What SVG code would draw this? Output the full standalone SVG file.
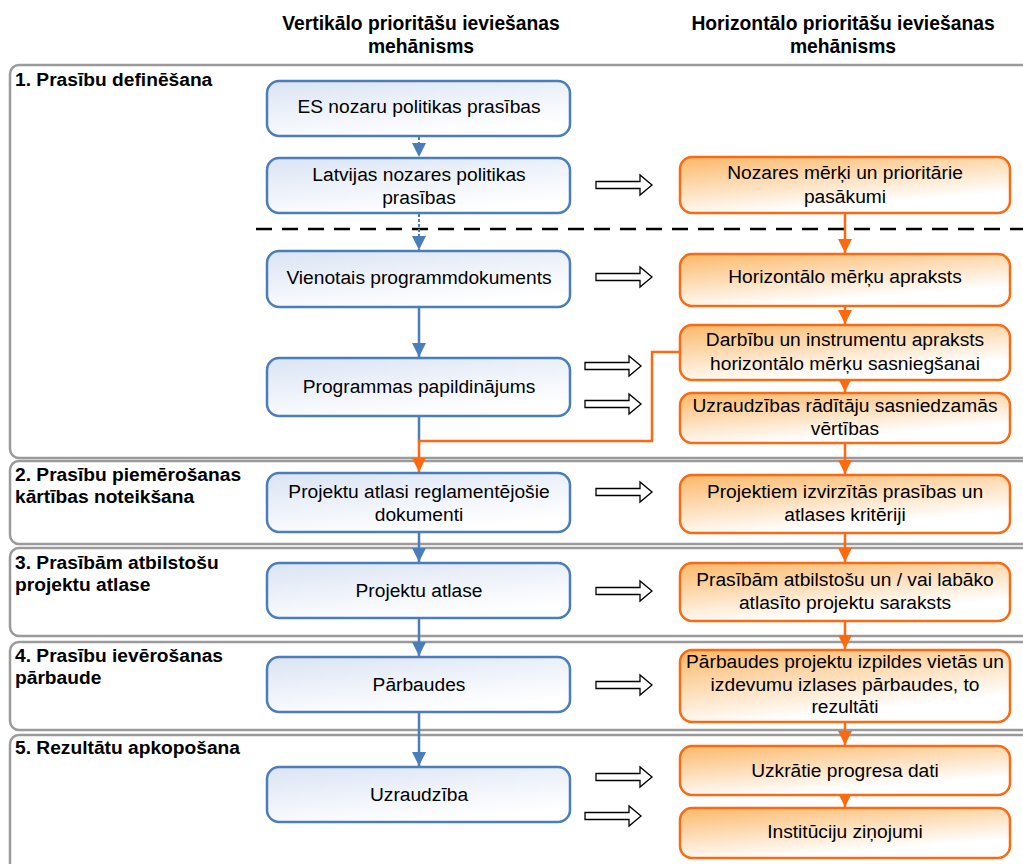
<svg xmlns="http://www.w3.org/2000/svg" width="1023" height="864" viewBox="0 0 1023 864">
<defs>
<linearGradient id="gb" x1="0" y1="0" x2="0.5" y2="1">
<stop offset="0" stop-color="#dbe4f4"/>
<stop offset="1" stop-color="#ffffff"/>
</linearGradient>
<linearGradient id="go" x1="0" y1="0" x2="0.5" y2="1">
<stop offset="0" stop-color="#fbb868"/>
<stop offset="0.9" stop-color="#ffffff"/>
</linearGradient>
<marker id="ab" viewBox="0 0 10 10" refX="10" refY="5" markerWidth="14" markerHeight="14" markerUnits="userSpaceOnUse" orient="auto">
<path d="M0,0 L10,5 L0,10 z" fill="#4a7ebb"/>
</marker>
<marker id="ao" viewBox="0 0 10 10" refX="10" refY="5" markerWidth="14" markerHeight="14" markerUnits="userSpaceOnUse" orient="auto">
<path d="M0,0 L10,5 L0,10 z" fill="#fb6a10"/>
</marker>
<path id="ha" d="M0,-3.5 H44 V-10 L56,0 L44,10 V3.5 H0 Z"/>
</defs>
<style>
.sec{fill:none;stroke:#9a9a9a;stroke-width:2.5}
.lbl{font-family:"Liberation Sans",Arial,sans-serif;font-weight:bold;font-size:19.2px;fill:#000}
.hdr{font-family:"Liberation Sans",Arial,sans-serif;font-weight:bold;font-size:19.3px;fill:#000;text-anchor:middle}
.bb{fill:url(#gb);stroke:#4a7ebb;stroke-width:2.5}
.ob{fill:url(#go);stroke:#fb6a10;stroke-width:2.5}
.t{font-family:"Liberation Sans",Arial,sans-serif;font-size:19.2px;fill:#000;text-anchor:middle}
.cb{fill:none;stroke:#4a7ebb;stroke-width:2.5}
.cbd{fill:none;stroke:#4a7ebb;stroke-width:2;stroke-dasharray:3 2}
.co{fill:none;stroke:#fb6a10;stroke-width:2.5}
.hol{fill:#fff;stroke:#000;stroke-width:1.3}
.dash{stroke:#000;stroke-width:2.5;stroke-dasharray:16 10;fill:none}
</style>
<rect width="1023" height="864" fill="#fff"/>

<g id="headers">
<text class="hdr" x="421" y="30">Vertikālo prioritāšu ieviešanas</text>
<text class="hdr" x="421" y="53">mehānisms</text>
<text class="hdr" x="843" y="30">Horizontālo prioritāšu ieviešanas</text>
<text class="hdr" x="843" y="53">mehānisms</text>
</g>

<g id="sections">
<g id="sec1"><rect class="sec" x="10" y="65" width="1040" height="393" rx="9"/><text class="lbl" x="15" y="86">1. Prasību definēšana</text></g>
<g id="sec2"><rect class="sec" x="10" y="461" width="1040" height="83" rx="9"/><text class="lbl" x="15" y="481">2. Prasību piemērošanas</text><text class="lbl" x="15" y="503">kārtības noteikšana</text></g>
<g id="sec3"><rect class="sec" x="10" y="548" width="1040" height="88" rx="9"/><text class="lbl" x="15" y="569">3. Prasībām atbilstošu</text><text class="lbl" x="15" y="591">projektu atlase</text></g>
<g id="sec4"><rect class="sec" x="10" y="642" width="1040" height="88" rx="9"/><text class="lbl" x="15" y="662">4. Prasību ievērošanas</text><text class="lbl" x="15" y="684">pārbaude</text></g>
<g id="sec5"><rect class="sec" x="10" y="735" width="1040" height="200" rx="9"/><text class="lbl" x="15" y="754">5. Rezultātu apkopošana</text></g>
</g>

<path class="dash" d="M256,229 H1023"/>

<g id="connectors">
<path class="cbd" d="M419,137 V157" marker-end="url(#ab)"/>
<path class="cbd" d="M419,214 V250" marker-end="url(#ab)"/>
<path class="cb" d="M419,308 V357" marker-end="url(#ab)"/>
<path class="cb" d="M419,417 V441"/>
<path class="co" d="M680,352 H652 V441 H419 V472" marker-end="url(#ao)"/>
<path class="cb" d="M419,533 V562" marker-end="url(#ab)"/>
<path class="cb" d="M419,619 V656" marker-end="url(#ab)"/>
<path class="cb" d="M419,713 V766" marker-end="url(#ab)"/>
<path class="co" d="M845,214 V253" marker-end="url(#ao)"/>
<path class="co" d="M845,307 V324" marker-end="url(#ao)"/>
<path class="co" d="M845,381 V392" marker-end="url(#ao)"/>
<path class="co" d="M845,444 V474" marker-end="url(#ao)"/>
<path class="co" d="M845,534 V562" marker-end="url(#ao)"/>
<path class="co" d="M845,622 V649" marker-end="url(#ao)"/>
<path class="co" d="M845,723 V745" marker-end="url(#ao)"/>
<path class="co" d="M845,796 V807" marker-end="url(#ao)"/>
<use href="#ha" class="hol" x="596" y="185"/>
<use href="#ha" class="hol" x="596" y="277"/>
<use href="#ha" class="hol" x="585" y="366"/>
<use href="#ha" class="hol" x="585" y="404"/>
<use href="#ha" class="hol" x="596" y="492"/>
<use href="#ha" class="hol" x="596" y="591"/>
<use href="#ha" class="hol" x="596" y="685"/>
<use href="#ha" class="hol" x="596" y="777"/>
<use href="#ha" class="hol" x="585" y="816"/>
</g>

<g id="n_es"><rect class="bb" x="267" y="81" width="303" height="55" rx="12"/><text class="t" x="419" y="113">ES nozaru politikas prasības</text></g>
<g id="n_lv"><rect class="bb" x="267" y="158" width="303" height="55" rx="12"/><text class="t" x="419" y="181">Latvijas nozares politikas</text><text class="t" x="419" y="204">prasības</text></g>
<g id="n_vpd"><rect class="bb" x="267" y="251" width="303" height="56" rx="12"/><text class="t" x="419" y="284">Vienotais programmdokuments</text></g>
<g id="n_pp"><rect class="bb" x="267" y="358" width="303" height="58" rx="12"/><text class="t" x="419" y="393">Programmas papildinājums</text></g>
<g id="n_pard"><rect class="bb" x="267" y="473" width="303" height="59" rx="12"/><text class="t" x="419" y="498">Projektu atlasi reglamentējošie</text><text class="t" x="419" y="521">dokumenti</text></g>
<g id="n_pa"><rect class="bb" x="267" y="563" width="303" height="55" rx="12"/><text class="t" x="419" y="597">Projektu atlase</text></g>
<g id="n_parb"><rect class="bb" x="267" y="657" width="303" height="55" rx="12"/><text class="t" x="419" y="691">Pārbaudes</text></g>
<g id="n_uzr"><rect class="bb" x="267" y="767" width="303" height="55" rx="12"/><text class="t" x="419" y="801">Uzraudzība</text></g>

<g id="o_noz"><rect class="ob" x="680" y="157" width="330" height="56" rx="12"/><text class="t" x="845" y="179">Nozares mērķi un prioritārie</text><text class="t" x="845" y="203">pasākumi</text></g>
<g id="o_hor"><rect class="ob" x="680" y="254" width="330" height="52" rx="12"/><text class="t" x="845" y="283">Horizontālo mērķu apraksts</text></g>
<g id="o_darb"><rect class="ob" x="680" y="325" width="330" height="55" rx="12"/><text class="t" x="845" y="346">Darbību un instrumentu apraksts</text><text class="t" x="845" y="370">horizontālo mērķu sasniegšanai</text></g>
<g id="o_uzr"><rect class="ob" x="680" y="393" width="330" height="50" rx="12"/><text class="t" x="845" y="412">Uzraudzības rādītāju sasniedzamās</text><text class="t" x="845" y="435">vērtības</text></g>
<g id="o_proj"><rect class="ob" x="680" y="475" width="330" height="58" rx="12"/><text class="t" x="845" y="498">Projektiem izvirzītās prasības un</text><text class="t" x="845" y="521">atlases kritēriji</text></g>
<g id="o_sar"><rect class="ob" x="680" y="563" width="330" height="58" rx="12"/><text class="t" x="845" y="586">Prasībām atbilstošu un / vai labāko</text><text class="t" x="845" y="609">atlasīto projektu saraksts</text></g>
<g id="o_parb"><rect class="ob" x="680" y="650" width="330" height="72" rx="12"/><text class="t" x="845" y="668">Pārbaudes projektu izpildes vietās un</text><text class="t" x="845" y="691">izdevumu izlases pārbaudes, to</text><text class="t" x="845" y="713">rezultāti</text></g>
<g id="o_uzk"><rect class="ob" x="680" y="746" width="330" height="49" rx="12"/><text class="t" x="845" y="777">Uzkrātie progresa dati</text></g>
<g id="o_inst"><rect class="ob" x="680" y="808" width="330" height="50" rx="12"/><text class="t" x="845" y="838">Institūciju ziņojumi</text></g>
</svg>
